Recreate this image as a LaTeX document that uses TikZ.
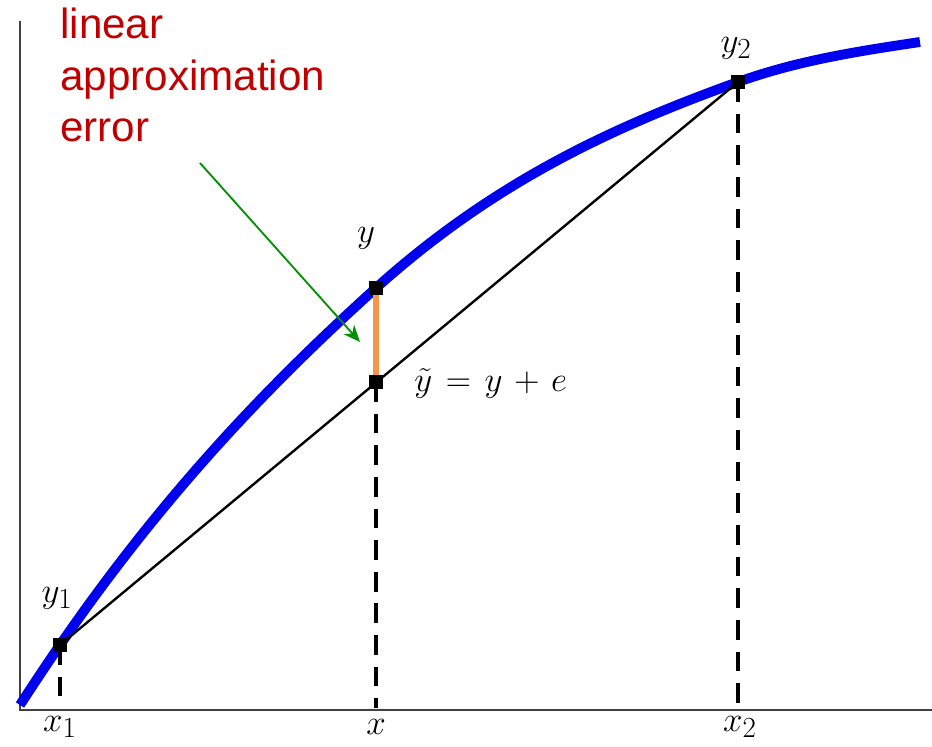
\documentclass[tikz,border=0pt]{standalone}
\usepackage{fontspec}
\usepackage{tikz}
\usetikzlibrary{arrows.meta}
\newfontfamily\notefont{Liberation Sans}
\definecolor{curveblue}{HTML}{0000F0}
\definecolor{errorange}{HTML}{F79646}
\definecolor{notered}{HTML}{C00000}
\definecolor{pointgreen}{HTML}{009000}
\definecolor{axisgrey}{HTML}{404040}
\tikzset{
  axisline/.style={draw=axisgrey, line width=1.5pt},
  curveline/.style={draw=curveblue, line width=7pt},
  chord/.style={draw=black, line width=1.7pt},
  dropline/.style={draw=black, line width=3pt, dash pattern=on 14pt off 8.5pt},
  errseg/.style={draw=errorange, line width=3.6pt},
  ptmark/.style={rectangle, fill=black, minimum size=10.5pt, inner sep=0pt},
  callout/.style={-{Stealth[length=12pt,width=10pt]}, draw=pointgreen,
                  line width=1.3pt},
  mathlbl/.style={font=\fontsize{32}{38}\selectfont, inner sep=0pt},
  notetext/.style={font=\notefont\fontsize{30}{36.5}\selectfont,
                   text=notered, align=left, inner sep=0pt}
}

\begin{document}
\begin{tikzpicture}[x=0.025cm,y=-0.025cm]
  \useasboundingbox (0,0) rectangle (932,747);

  % Axes.
  \coordinate (origin) at (20,710);
  \coordinate (ytop) at (20,21);
  \coordinate (xend) at (932,710);
  \draw[axisline] (ytop) -- (20,711);
  \draw[axisline] (origin) -- (xend);

  % The concave function, through the three sample points.
  \draw[curveline] (20,705)
    .. controls (33.3,684.5) and (46.7,664.3) .. (60,645)
    .. controls (165.3,492.3) and (271,382.8) .. (376,288)
    .. controls (496.7,179.4) and (617.3,125.5) .. (738,82)
    .. controls (798.7,60.2) and (859.3,51.1) .. (920,42);

  % Sample points, the chord and its drop lines.
  \node[ptmark] (p1) at (60,645) {};
  \node[ptmark] (py) at (376,288) {};
  \node[ptmark] (pt) at (376,382) {};
  \node[ptmark] (p2) at (738,82) {};
  \coordinate (f1) at (60,708);
  \coordinate (fx) at (376,708);
  \coordinate (f2) at (738,708);

  \draw[chord] (p1.center) -- (p2.center);
  \draw[dropline] (p1.center) -- (f1);
  \draw[dropline] (pt.center) -- (fx);
  \draw[dropline] (p2.center) -- (f2);
  \draw[errseg] (py.center) -- (pt.center);
  \node[ptmark] at (p1) {};
  \node[ptmark] at (py) {};
  \node[ptmark] at (pt) {};
  \node[ptmark] at (p2) {};

  % Labels.
  \node[mathlbl] (ly1) at (57,598) {$y_1$};
  \node[mathlbl] (ly) at (366,238) {$y$};
  \node[mathlbl] (ly2) at (736,48) {$y_2$};
  \node[mathlbl,anchor=west] (lyt) at (414,383)
    {$\tilde y \mkern2mu=\mkern2mu y \mkern2mu+\mkern2mu e$};
  \node[mathlbl] (lx1) at (60,727) {$x_1$};
  \node[mathlbl] (lx) at (376,727) {$x$};
  \node[mathlbl] (lx2) at (740,727) {$x_2$};

  % Callout.
  \node[notetext,anchor=north west] (note) at (60,8)
    {linear\\approximation\\error};
  \coordinate (tail) at (200,163);
  \coordinate (tip) at (360,342);
  \draw[callout] (tail) -- (tip);
\end{tikzpicture}
\end{document}
